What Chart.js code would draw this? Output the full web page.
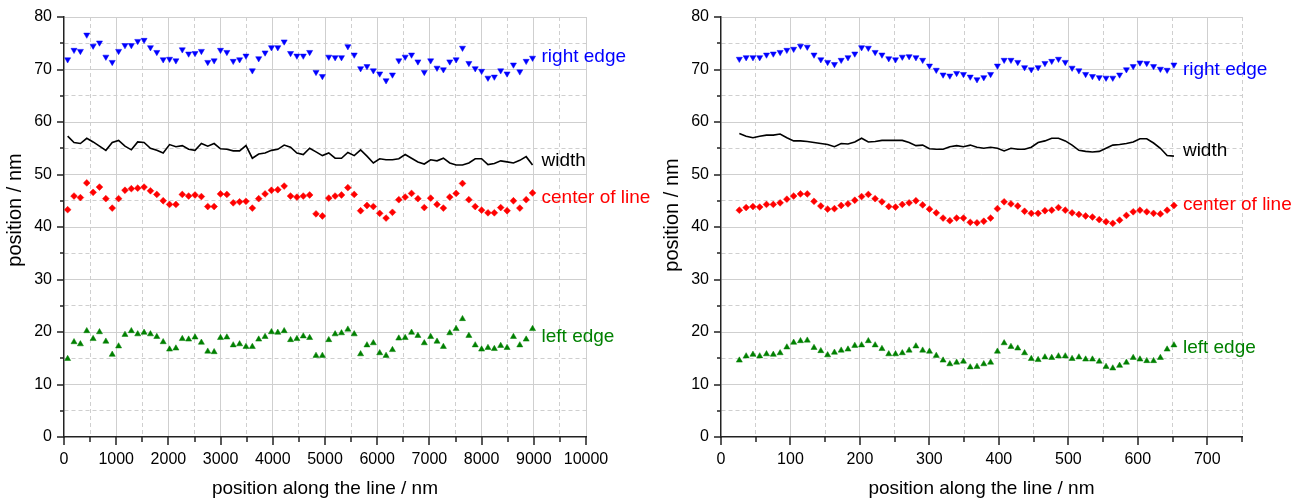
<!DOCTYPE html>
<html>
<head>
<meta charset="utf-8">
<title>Line edge positions</title>
<script src="https://cdn.jsdelivr.net/npm/chart.js@4.4.1/dist/chart.umd.min.js"></script>
<style>
	body { margin: 0; background: #fff; }
	canvas { position: absolute; top: 0; }
	#chartLong { left: 0; }
	#chartShort { left: 657px; }
</style>
</head>
<body>
<canvas id="chartLong" width="657" height="502"></canvas>
<canvas id="chartShort" width="647" height="502"></canvas>
<script>
// long scan (nm along the line)
const posLong = [70, 192, 314, 436, 558, 680, 802, 924, 1046, 1168, 1290, 1412, 1534, 1656, 1778, 1900, 2022, 2144, 2266, 2388,
	2510, 2632, 2754, 2876, 2998, 3120, 3242, 3364, 3486, 3608, 3730, 3852, 3974, 4096, 4218, 4340, 4462, 4584, 4706, 4828,
	4950, 5072, 5194, 5316, 5438, 5560, 5682, 5804, 5926, 6048, 6170, 6292, 6414, 6536, 6658, 6780, 6902, 7024, 7146, 7268,
	7390, 7512, 7634, 7756, 7878, 8000, 8122, 8244, 8366, 8488, 8610, 8732, 8854, 8976]
const rightEdgeLong = [71.9, 73.7, 73.5, 76.6, 74.5, 75.1, 72.4, 71.4, 73.5, 74.6, 74.6, 75.4, 75.6, 74.2, 73.3, 71.9, 72.0, 71.7, 73.8, 73.0,
	73.1, 73.5, 71.4, 71.7, 73.7, 73.3, 71.6, 71.9, 72.6, 69.8, 72.1, 73.2, 74.2, 74.2, 75.3, 73.1, 72.6, 72.6, 73.3, 69.5,
	68.7, 72.4, 72.3, 72.3, 74.4, 72.8, 70.2, 70.6, 69.8, 69.2, 67.9, 69.0, 71.7, 72.4, 72.8, 71.5, 69.5, 71.7, 70.3, 70.0,
	71.5, 71.9, 74.1, 71.2, 70.2, 69.7, 68.4, 68.6, 69.8, 69.2, 70.9, 69.6, 71.6, 72.2]
const widthLong = [57.3, 56.1, 55.9, 56.9, 56.2, 55.4, 54.6, 56.1, 56.5, 55.4, 54.7, 56.2, 56.1, 55.0, 54.6, 54.1, 55.7, 55.3, 55.5, 54.8,
	54.6, 55.9, 55.4, 55.9, 54.9, 54.8, 54.5, 54.5, 55.5, 53.1, 53.9, 54.1, 54.6, 54.8, 55.6, 55.2, 54.1, 53.8, 55.0, 54.3,
	53.6, 54.1, 53.1, 53.1, 54.2, 53.6, 54.7, 53.5, 52.2, 53.0, 52.8, 52.8, 53.0, 53.8, 53.1, 52.4, 52.0, 52.8, 52.6, 53.1,
	52.2, 51.8, 51.8, 52.2, 53.0, 53.0, 51.9, 52.1, 52.6, 52.4, 52.2, 52.7, 53.4, 51.8]
const centerLong = [43.3, 45.9, 45.6, 48.4, 46.6, 47.6, 45.4, 43.6, 45.4, 47.0, 47.3, 47.4, 47.6, 46.9, 46.2, 45.0, 44.3, 44.3, 46.2, 45.9,
	46.1, 45.8, 43.9, 43.9, 46.3, 46.2, 44.6, 44.8, 44.9, 43.6, 45.4, 46.3, 47.0, 47.1, 47.8, 45.9, 45.7, 45.9, 46.1, 42.5,
	42.1, 45.5, 45.9, 46.1, 47.5, 46.2, 43.1, 44.1, 43.9, 42.6, 41.7, 42.8, 45.2, 45.7, 46.4, 45.4, 43.7, 45.5, 44.3, 43.6,
	45.7, 46.4, 48.3, 45.2, 43.9, 43.2, 42.7, 42.7, 43.7, 43.1, 45.0, 43.6, 45.2, 46.5]
const leftEdgeLong = [14.9, 18.1, 17.7, 20.2, 18.7, 20.0, 18.2, 15.7, 17.3, 19.5, 20.2, 19.6, 19.9, 19.6, 19.1, 18.1, 16.7, 16.9, 18.7, 18.6,
	19.0, 18.0, 16.3, 16.2, 18.9, 19.0, 17.5, 17.7, 17.2, 17.2, 18.6, 19.1, 20.0, 19.9, 20.2, 18.5, 18.7, 19.2, 18.9, 15.5,
	15.5, 18.5, 19.6, 19.8, 20.5, 19.6, 15.8, 17.5, 17.9, 16.0, 15.5, 16.6, 18.8, 18.9, 19.9, 19.3, 17.9, 19.1, 18.2, 17.2,
	19.8, 20.6, 22.5, 19.3, 17.5, 16.7, 17.0, 16.8, 17.4, 17.0, 19.1, 17.5, 18.6, 20.6]

// short scan
const posShort = [26.4, 36.2, 46.0, 55.7, 65.5, 75.3, 85.1, 94.8, 104.6, 114.4, 124.2, 133.9, 143.7, 153.5, 163.3, 173.0, 182.8, 192.6, 202.4, 212.1,
	221.9, 231.7, 241.5, 251.2, 261.0, 270.8, 280.6, 290.3, 300.1, 309.9, 319.7, 329.4, 339.2, 349.0, 358.8, 368.5, 378.3, 388.1, 397.9, 407.6,
	417.4, 427.2, 437.0, 446.7, 456.5, 466.3, 476.1, 485.8, 495.6, 505.4, 515.2, 524.9, 534.7, 544.5, 554.3, 564.0, 573.8, 583.6, 593.4, 603.1,
	612.9, 622.7, 632.5, 642.2, 652.0]
const rightEdgeShort = [72.0, 72.3, 72.3, 72.3, 72.8, 73.0, 73.3, 73.7, 73.9, 74.5, 74.3, 72.8, 71.9, 71.4, 71.0, 71.8, 72.3, 73.0, 74.2, 74.1,
	73.3, 72.8, 72.1, 71.9, 72.4, 72.5, 72.3, 71.8, 70.7, 69.9, 69.0, 68.8, 69.3, 69.1, 68.6, 68.1, 68.5, 69.1, 70.7, 71.8,
	71.8, 71.4, 70.4, 70.0, 70.4, 71.2, 71.6, 72.0, 71.4, 70.3, 69.8, 69.1, 68.7, 68.5, 68.4, 68.4, 69.0, 70.0, 70.6, 71.3,
	71.2, 70.6, 70.1, 69.9, 70.9]
const widthShort = [57.8, 57.3, 57.0, 57.3, 57.5, 57.5, 57.7, 57.0, 56.4, 56.4, 56.3, 56.1, 55.9, 55.7, 55.3, 55.9, 55.8, 56.2, 56.9, 56.2,
	56.3, 56.5, 56.5, 56.5, 56.5, 56.1, 55.5, 55.6, 54.9, 54.8, 54.8, 55.3, 55.5, 55.3, 55.6, 55.2, 55.0, 55.2, 55.0, 54.5,
	55.0, 54.8, 54.8, 55.2, 56.1, 56.4, 56.9, 56.9, 56.4, 55.6, 54.6, 54.4, 54.3, 54.4, 55.0, 55.6, 55.7, 55.9, 56.2, 56.8,
	56.8, 56.0, 55.0, 53.6, 53.5]
const centerShort = [43.2, 43.7, 43.9, 43.8, 44.3, 44.3, 44.6, 45.3, 45.9, 46.3, 46.3, 44.9, 44.0, 43.4, 43.5, 44.1, 44.4, 45.1, 45.8, 46.2,
	45.4, 44.8, 43.9, 43.8, 44.3, 44.6, 45.0, 44.2, 43.4, 42.7, 41.7, 41.2, 41.7, 41.7, 40.9, 40.8, 41.1, 41.7, 43.5, 44.8,
	44.4, 44.0, 43.0, 42.6, 42.6, 43.1, 43.2, 43.7, 43.2, 42.7, 42.4, 42.1, 41.9, 41.4, 41.0, 40.7, 41.3, 42.2, 42.9, 43.2,
	42.9, 42.6, 42.5, 43.2, 44.1]
const leftEdgeShort = [14.6, 15.4, 15.7, 15.4, 15.8, 15.7, 16.0, 17.1, 18.0, 18.3, 18.4, 17.0, 16.4, 15.6, 16.1, 16.5, 16.7, 17.4, 17.5, 18.3,
	17.5, 16.8, 15.8, 15.8, 16.0, 16.5, 17.3, 16.5, 16.3, 15.5, 14.6, 13.9, 14.2, 14.4, 13.3, 13.4, 13.9, 14.2, 16.3, 17.9,
	17.2, 16.9, 16.0, 14.9, 14.7, 15.2, 15.1, 15.4, 15.4, 14.9, 15.2, 14.8, 14.8, 14.4, 13.4, 13.1, 13.6, 14.2, 15.1, 14.8,
	14.5, 14.5, 15.1, 16.7, 17.5]

const FONT = 'Arial, "Liberation Sans", sans-serif'
Chart.defaults.font.family = FONT
Chart.defaults.color = '#000'

const GRID = '#cfcfcf'

// outward tick marks, long for labelled ticks, short in between,
// plus the rotated y title sitting a little above the middle
const axisMarks = {
	id: 'axisMarks',
	afterDraw(chart, args, opts) {
		const { ctx, chartArea: area, scales: { x, y } } = chart
		ctx.save()
		ctx.strokeStyle = '#222'
		ctx.lineWidth = 1.5
		ctx.beginPath()
		for (const t of x.ticks) {
			const px = Math.round(x.getPixelForValue(t.value))
			const len = t.value % opts.xMajor === 0 ? 8 : 5
			ctx.moveTo(px, area.bottom)
			ctx.lineTo(px, area.bottom + len)
		}
		for (const t of y.ticks) {
			const py = Math.round(y.getPixelForValue(t.value))
			const len = t.value % opts.yMajor === 0 ? 7 : 4
			ctx.moveTo(area.left, py)
			ctx.lineTo(area.left - len, py)
		}
		ctx.stroke()

		ctx.translate(opts.titleX, (area.top + area.bottom) / 2 + opts.titleDy)
		ctx.rotate(-Math.PI / 2)
		ctx.font = '20px ' + FONT
		ctx.fillStyle = '#000'
		ctx.textAlign = 'center'
		ctx.textBaseline = 'middle'
		ctx.fillText('position / nm', 0, 0)
		ctx.restore()
	},
}

// series name written just after the last point
const endLabels = {
	id: 'endLabels',
	afterDatasetsDraw(chart) {
		const ctx = chart.ctx
		ctx.save()
		ctx.font = '19px ' + FONT
		ctx.textBaseline = 'middle'
		chart.data.datasets.forEach((ds, i) => {
			const els = chart.getDatasetMeta(i).data
			const last = els[els.length - 1]
			ctx.fillStyle = ds.labelColor
			ctx.fillText(ds.endLabel, last.x + 9, last.y + ds.labelDy)
		})
		ctx.restore()
	},
}

function points(xs, ys) {
	return xs.map((x, i) => ({ x: x, y: ys[i] }))
}

function markerSet(label, xs, ys, color, style, rotation, dy) {
	return {
		data: points(xs, ys),
		showLine: false,
		pointStyle: style,
		rotation: rotation,
		pointRadius: style === 'rectRot' ? 3.4 : 3.5,
		pointBorderWidth: 0.5,
		pointBackgroundColor: color,
		pointBorderColor: color,
		endLabel: label,
		labelColor: color,
		labelDy: dy,
	}
}

function makeChart(id, xs, series, xAxis) {
	const datasets = [
		markerSet('right edge', xs, series.right, '#0000ff', 'triangle', 180, series.dy[0]),
		{
			data: points(xs, series.width),
			showLine: true,
			borderColor: '#000',
			borderWidth: 1.6,
			pointRadius: 0,
			tension: 0,
			endLabel: 'width',
			labelColor: '#000',
			labelDy: series.dy[1],
		},
		markerSet('center of line', xs, series.center, '#ff0000', 'rectRot', 0, series.dy[2]),
		markerSet('left edge', xs, series.left, '#008000', 'triangle', 0, series.dy[3]),
	]

	const grid = {
		color: (c) => (c.tick && c.tick.value === 0 ? 'rgba(0,0,0,0)' : GRID),
		lineWidth: 1,
		drawTicks: false,
	}
	const dashFor = (major) => (c) => (c.tick && c.tick.value % major !== 0 ? [4, 3] : [])

	return new Chart(document.getElementById(id), {
		type: 'scatter',
		data: { datasets: datasets },
		plugins: [axisMarks, endLabels],
		options: {
			responsive: false,
			animation: false,
			devicePixelRatio: 1,
			events: [],
			layout: { padding: { left: 0, top: 17, right: xAxis.padRight, bottom: 0 } },
			plugins: {
				legend: { display: false },
				tooltip: { enabled: false },
				axisMarks: { xMajor: xAxis.major, yMajor: 10, titleX: 15, titleDy: xAxis.titleDy },
			},
			scales: {
				x: {
					type: 'linear',
					min: 0,
					max: xAxis.max,
					grid: grid,
					border: { color: '#222', width: 1.5, dash: dashFor(xAxis.major) },
					ticks: {
						stepSize: xAxis.step,
						autoSkip: false,
						maxRotation: 0,
						padding: 13,
						font: { size: 16 },
						callback: (v) => (v % xAxis.major === 0 ? String(v) : ''),
					},
					title: {
						display: true,
						text: 'position along the line / nm',
						font: { size: 19 },
						padding: { top: 0, bottom: 2 },
					},
					afterFit: (scale) => { scale.height = 65 },
				},
				y: {
					type: 'linear',
					min: 0,
					max: 80,
					grid: grid,
					border: { color: '#222', width: 1.5, dash: dashFor(10) },
					ticks: {
						stepSize: 5,
						autoSkip: false,
						padding: 12,
						font: { size: 16 },
						callback: (v) => (v % 10 === 0 ? String(v) : ''),
					},
					// fixed axis width; the top label may overhang into the layout padding
					afterFit: (scale) => {
						scale.width = 64
						scale.paddingTop = 0
					},
				},
			},
		},
	})
}

makeChart('chartLong', posLong, {
	right: rightEdgeLong, width: widthLong, center: centerLong, left: leftEdgeLong,
	dy: [-1, -4, 4.5, 8],
}, { max: 10000, step: 500, major: 1000, padRight: 71, titleDy: -17 })

makeChart('chartShort', posShort, {
	right: rightEdgeShort, width: widthShort, center: centerShort, left: leftEdgeShort,
	dy: [5, -5.5, -1, 3],
}, { max: 750, step: 50, major: 100, padRight: 62, titleDy: -12 })
</script>
</body>
</html>
